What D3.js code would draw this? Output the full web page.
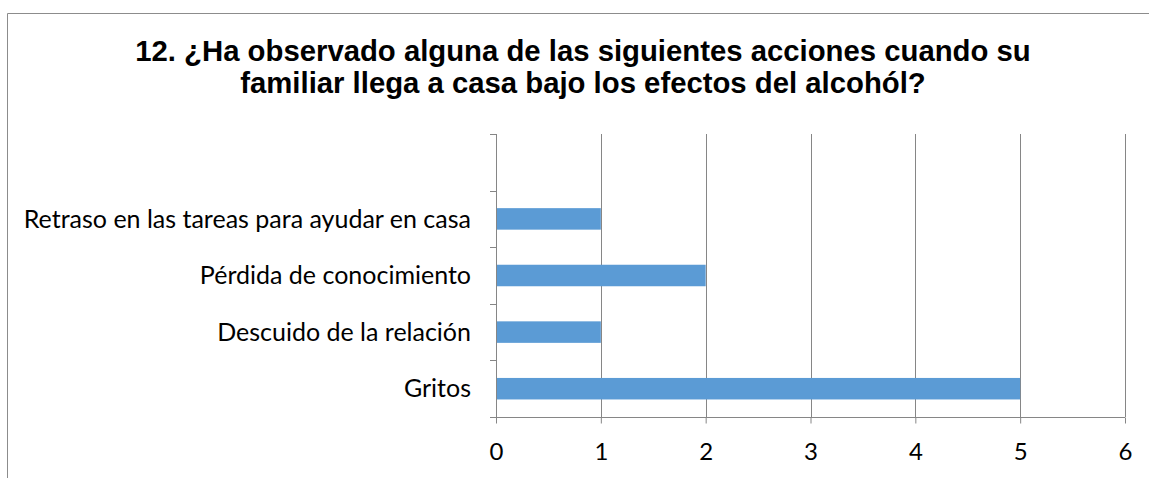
<!DOCTYPE html>
<html>
<head>
<meta charset="utf-8">
<script src="https://cdn.jsdelivr.net/npm/d3@7"></script>
<style>
  body { margin: 0; background: #fff; }
  svg { display: block; }
</style>
</head>
<body>
<svg></svg>
<script>
// Data
const categories = [
  "",
  "Retraso en las tareas para ayudar en casa",
  "Pérdida de conocimiento",
  "Descuido de la relación",
  "Gritos",
];
const values = [null, 1, 2, 1, 5];
const xTicks = [0, 1, 2, 3, 4, 5, 6];
const titleLines = [
  "12. ¿Ha observado alguna de las siguientes acciones cuando su",
  "familiar llega a casa bajo los efectos del alcohól?",
];

const width = 1149;
const height = 478;
const plot = { left: 496, right: 1125, top: 134, bottom: 417 };

const svg = d3.select("svg").attr("width", width).attr("height", height);

// Chart frame (left and top edges visible)
svg
  .append("path")
  .attr("d", `M7.5,${height} L7.5,13.5 L${width},13.5`)
  .attr("fill", "none")
  .attr("stroke", "#8c8c8c")
  .attr("stroke-width", 1);

// Title
svg
  .append("g")
  .selectAll("text")
  .data(titleLines)
  .join("text")
  .attr("x", 583)
  .attr("y", (d, i) => 61 + i * 32)
  .attr("text-anchor", "middle")
  .style("font-family", "'Liberation Sans', Arial, sans-serif")
  .style("font-weight", "bold")
  .style("font-size", "29.3px")
  .attr("fill", "#000")
  .text((d) => d);

// Scales
const x = d3.scaleLinear().domain([0, 6]).range([plot.left, plot.right]);
const y = d3
  .scaleBand()
  .domain(categories.map((d, i) => i))
  .range([plot.top, plot.bottom])
  .paddingInner(0.62)
  .paddingOuter(0.31);
const yBand = d3
  .scaleBand()
  .domain(categories.map((d, i) => i))
  .range([plot.top, plot.bottom]);

const gridColor = "#868686";
const labelFont = "Lato, 'Open Sans', sans-serif";

// Vertical gridlines
svg
  .append("g")
  .selectAll("line")
  .data(xTicks.slice(1))
  .join("line")
  .attr("x1", (d) => Math.round(x(d)) + 0.5)
  .attr("x2", (d) => Math.round(x(d)) + 0.5)
  .attr("y1", plot.top)
  .attr("y2", plot.bottom)
  .attr("stroke", gridColor)
  .attr("stroke-width", 1);

// Bars
svg
  .append("g")
  .selectAll("rect")
  .data(values.map((v, i) => ({ v, i })).filter((d) => d.v != null))
  .join("rect")
  .attr("x", x(0))
  .attr("y", (d) => y(d.i))
  .attr("width", (d) => x(d.v) - x(0))
  .attr("height", y.bandwidth())
  .attr("fill", "#5b9bd5");

// X axis
const xAxis = svg
  .append("g")
  .attr("transform", `translate(0,${Math.round(plot.bottom) + 0.5})`)
  .call(
    d3.axisBottom(x).tickValues(xTicks).tickFormat(d3.format("d")).tickSize(6).tickPadding(19)
  );
xAxis.select(".domain").attr("stroke", gridColor).attr("d", `M${plot.left - 6},0H${plot.right}`);
xAxis.selectAll(".tick line").attr("stroke", gridColor);
xAxis
  .selectAll(".tick text")
  .attr("fill", "#000")
  .style("font-family", labelFont)
  .style("font-size", "24px");

// Y axis: ticks at band boundaries
const bounds = categories.map((d, i) => yBand(i)).concat([plot.bottom]);
const yAxis = svg.append("g");
yAxis
  .append("line")
  .attr("x1", Math.round(plot.left) + 0.5)
  .attr("x2", Math.round(plot.left) + 0.5)
  .attr("y1", plot.top)
  .attr("y2", plot.bottom)
  .attr("stroke", gridColor);
yAxis
  .selectAll(".ytick")
  .data(bounds)
  .join("line")
  .attr("class", "ytick")
  .attr("x1", plot.left - 6)
  .attr("x2", plot.left)
  .attr("y1", (d) => Math.round(d) + 0.5)
  .attr("y2", (d) => Math.round(d) + 0.5)
  .attr("stroke", gridColor);

// Category labels
svg
  .append("g")
  .selectAll("text")
  .data(categories)
  .join("text")
  .attr("x", 471)
  .attr("y", (d, i) => yBand(i) + yBand.bandwidth() / 2)
  .attr("dy", "0.35em")
  .attr("text-anchor", "end")
  .style("font-family", labelFont)
  .style("font-size", "25px")
  .attr("fill", "#000")
  .text((d) => d);
</script>
</body>
</html>
